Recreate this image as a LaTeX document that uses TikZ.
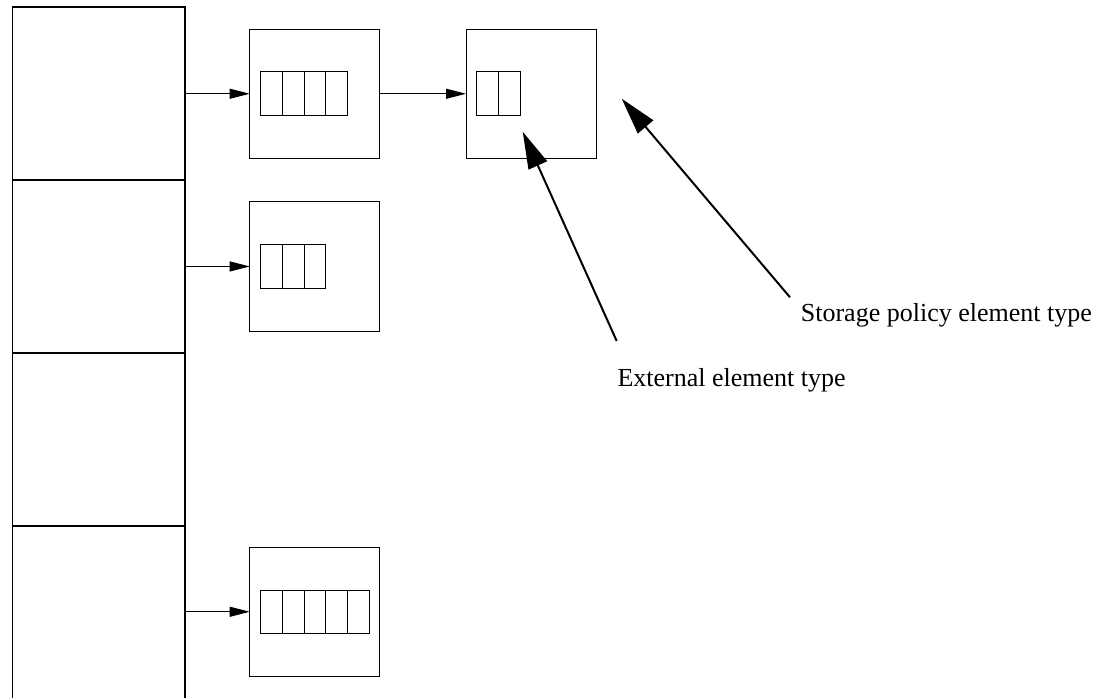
\documentclass[tikz,border=0pt]{standalone}
\usepackage{fontspec}
\setmainfont{Liberation Serif}
\usetikzlibrary{arrows.meta}
\begin{document}
\begin{tikzpicture}[x=1pt,y=-1pt,
  slot/.style={draw,line width=1.1pt,minimum width=172.7pt,minimum height=173pt,
    inner sep=0pt,outer sep=0pt,anchor=north west},
  holder/.style={draw,line width=1pt,minimum width=130pt,minimum height=129.5pt,
    inner sep=0pt,outer sep=0pt,anchor=north west},
  cellbox/.style={draw,line width=1pt,minimum width=21.7pt,minimum height=43.6pt,
    inner sep=0pt,outer sep=0pt,anchor=north west},
  link/.style={line width=1pt,-{Triangle[length=20pt,width=10pt]}},
  pointer/.style={line width=2pt,-{Triangle[length=37pt,width=20pt]}},
  caption/.style={font=\fontsize{26}{31}\selectfont,inner sep=0pt,anchor=base west}
]
\useasboundingbox (0,0) rectangle (1101,697);
\clip (0,0) rectangle (1101,697);

% table of slots on the left
\node[slot] (s1) at (12.3,7) {};
\node[slot] (s2) at (12.3,180) {};
\node[slot] (s3) at (12.3,353) {};
\node[slot] (s4) at (12.3,526) {};

% element holders
\node[holder] (h1) at (249.7,29) {};
\node[holder] (h2) at (466,29) {};
\node[holder] (h3) at (249.7,201.7) {};
\node[holder] (h4) at (249.7,547) {};

% element arrays inside the holders
\foreach \i in {1,...,4} \node[cellbox] (a1-\i) at ({260.7+(\i-1)*21.7},71.7) {};
\foreach \i in {1,2}     \node[cellbox] (a2-\i) at ({476.7+(\i-1)*21.7},71.7) {};
\foreach \i in {1,...,3} \node[cellbox] (a3-\i) at ({260.7+(\i-1)*21.7},244.5) {};
\foreach \i in {1,...,5} \node[cellbox] (a4-\i) at ({260.7+(\i-1)*21.7},590.2) {};

% links
\draw[link] (s1.east |- h1.west) -- (h1.west);
\draw[link] (h1.east) -- (h2.west);
\draw[link] (s2.east |- h3.west) -- (h3.west);
\draw[link] (s4.east |- h4.west) -- (h4.west);

% captions with pointers
\node[caption] (ext) at (617.3,386) {External element type};
\node[caption] (stp) at (800.7,321.7) {Storage policy element type};
\coordinate (extfoot) at (616.7,341);
\coordinate (stpfoot) at (790,297.3);
\coordinate (exttip) at (522.7,131.7);
\coordinate (stptip) at (621.7,98.7);
\draw[pointer] (extfoot) -- (exttip);
\draw[pointer] (stpfoot) -- (stptip);
\end{tikzpicture}
\end{document}
